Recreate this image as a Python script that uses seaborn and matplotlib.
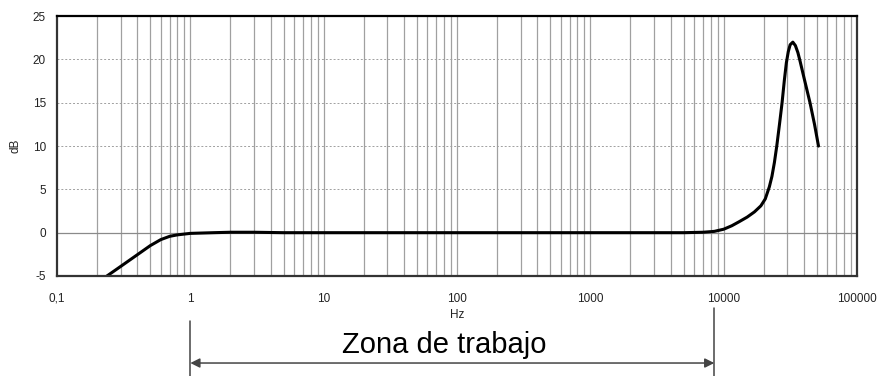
import numpy as np
import pandas as pd
import matplotlib
matplotlib.use("Agg")
import matplotlib.pyplot as plt
import matplotlib.transforms as mtransforms
import seaborn as sns

# --- Data (frequency in Hz, gain in dB) ---
freq_hz = [0.237, 0.3, 0.4, 0.5, 0.6, 0.7, 0.8, 1.0, 1.5, 2, 3, 5, 10, 100,
           1000, 5000, 7000, 8500, 10000, 11500, 13000, 15000, 17000, 19000,
           20500, 22000, 23000, 24000, 25000, 26200, 27400, 28500, 29500,
           30500, 31500, 33000, 34500, 36000, 37400, 40000, 44400, 48000, 51400]
gain_db = [-5.0, -3.9, -2.55, -1.5, -0.8, -0.42, -0.25, -0.08, 0.0, 0.05, 0.05, 0.0,
           0.0, 0.0, 0.0, 0.0, 0.05, 0.15, 0.4, 0.8, 1.25, 1.8, 2.4, 3.1,
           3.9, 5.3, 6.5, 8.1, 10.0, 12.5, 15.0, 17.6, 19.6,
           20.9, 21.7, 22.0, 21.6, 20.8, 19.8, 17.9, 15.0, 12.5, 10.0]

x_ticks = [0.1, 1, 10, 100, 1000, 10000, 100000]
x_tick_labels = ['0,1', '1', '10', '100', '1000', '10000', '100000']
y_ticks = [-5, 0, 5, 10, 15, 20, 25]

zone_start = 1
zone_end = 8500
zone_label = 'Zona de trabajo'

sns.set_style("white")
plt.rcParams['font.family'] = ['Liberation Sans', 'DejaVu Sans']
plt.rcParams['axes.unicode_minus'] = False

fig = plt.figure(figsize=(8.81, 3.76), dpi=100)
ax = fig.add_axes([0.0647, 0.266, 0.9081, 0.691])

df = pd.DataFrame({'Hz': freq_hz, 'dB': gain_db})

# grid: vertical lines at every decade subdivision
minor_x = [m * 10.0 ** e for e in range(-1, 5) for m in range(1, 10)]
for xv in minor_x:
    if 0.1 < xv < 100000:
        ax.axvline(xv, color='#a0a0a0', lw=0.9, zorder=0)
for yv in [5, 10, 15, 20]:
    ax.axhline(yv, color='#a0a0a0', lw=0.7, ls=(0, (2, 2)), zorder=0)
ax.axhline(0, color='#8a8a8a', lw=0.9, zorder=0)

sns.lineplot(data=df, x='Hz', y='dB', ax=ax, color='black', lw=2.2, sort=False)

ax.set_xscale('log')
ax.set_xlim(0.1, 100000)
ax.set_ylim(-5, 25)
ax.set_xticks(x_ticks)
ax.set_xticklabels(x_tick_labels)
ax.xaxis.set_minor_locator(matplotlib.ticker.NullLocator())
ax.set_yticks(y_ticks)
ax.tick_params(axis='both', length=0, labelsize=8.5, colors='#222222')
ax.tick_params(axis='x', pad=12)
ax.tick_params(axis='y', pad=8)
ax.set_xlabel('Hz', fontsize=8.5, labelpad=3, color='#222222')
ax.set_ylabel('dB', fontsize=8.5, labelpad=8, color='#222222')

for side in ['left', 'right', 'top', 'bottom']:
    ax.spines[side].set_color('#333333')
    ax.spines[side].set_linewidth(1.6)
ax.spines['top'].set_color('black')

# working zone annotation below the axis
trans = mtransforms.blended_transform_factory(ax.transData, ax.transAxes)
ax.plot([zone_start, zone_start], [-0.173, -0.40], transform=trans, color='#444444',
        lw=1.1, clip_on=False)
ax.plot([zone_end, zone_end], [-0.123, -0.40], transform=trans, color='#444444',
        lw=1.1, clip_on=False)
ax.annotate('', xy=(zone_start, -0.335), xytext=(zone_end, -0.335),
            xycoords=trans, textcoords=trans,
            arrowprops=dict(arrowstyle='<|-|>', color='#444444', lw=1.1,
                            shrinkA=0, shrinkB=0, mutation_scale=14))
ax.text(80, -0.296, zone_label, transform=trans, ha='center', va='baseline',
        fontsize=21, color='black')

fig.savefig('out.png', dpi=100)
